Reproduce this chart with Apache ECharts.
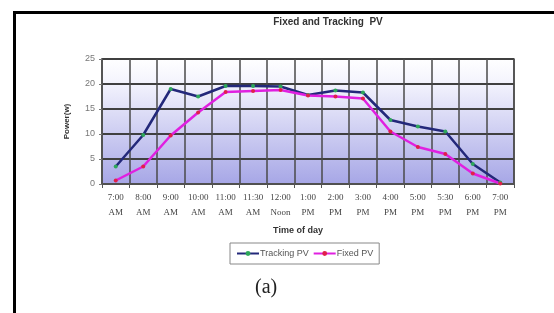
<!DOCTYPE html>
<html>
<head>
<meta charset="utf-8">
<script src="https://cdn.jsdelivr.net/npm/echarts@6/dist/echarts.min.js"></script>
<style>
	html, body { margin: 0; padding: 0; background: #fff; }
	#chart { width: 554px; height: 313px; }
</style>
</head>
<body>
<div id="chart"></div>
<script>
// time of day, two lines per label
var categories = ['7:00\nAM', '8:00\nAM', '9:00\nAM', '10:00\nAM', '11:00\nAM', '11:30\nAM', '12:00\nNoon',
	'1:00\nPM', '2:00\nPM', '3:00\nPM', '4:00\nPM', '5:00\nPM', '5:30\nPM', '6:00\nPM', '7:00\nPM'];
var trackingPV = [3.5, 9.8, 19, 17.5, 19.6, 19.6, 19.5, 17.8, 18.7, 18.3, 12.8, 11.5, 10.5, 4, 0.3];
var fixedPV = [0.7, 3.5, 9.7, 14.3, 18.4, 18.6, 18.8, 17.7, 17.5, 17.1, 10.5, 7.4, 6, 2.1, 0.1];

var myChart = echarts.init(document.getElementById('chart'));
var option = {
	animation: false,
	title: {
		text: 'Fixed and Tracking  PV',
		left: 323,
		top: 12,
		textAlign: 'center',
		textStyle: { fontFamily: 'Arial, Liberation Sans', fontSize: 10, fontWeight: 'bold', color: '#333' }
	},
	grid: {
		left: 102, right: 40, top: 59, height: 125,
		show: true,
		borderColor: '#555',
		borderWidth: 1.5,
		backgroundColor: new echarts.graphic.LinearGradient(0, 0, 0, 1, [
			{ offset: 0, color: '#ffffff' },
			{ offset: 0.2, color: '#f3f3fd' },
			{ offset: 1, color: '#a6a6e6' }
		])
	},
	legend: {
		data: ['Tracking PV', 'Fixed PV'],
		left: 230,
		top: 243,
		width: 150,
		itemGap: 4,
		itemWidth: 22,
		itemHeight: 6,
		padding: [6, 6, 6, 6],
		borderColor: '#888',
		borderWidth: 1,
		textStyle: { fontFamily: 'Arial, Liberation Sans', fontSize: 9, color: '#555', padding: [0, 0, 0, -4] }
	},
	xAxis: {
		type: 'category',
		data: categories,
		boundaryGap: true,
		name: 'Time of day',
		nameLocation: 'middle',
		nameGap: 42,
		nameTextStyle: { fontFamily: 'Arial, Liberation Sans', fontSize: 9, fontWeight: 'bold', color: '#333', padding: [0, 0, 0, -20] },
		axisLine: { lineStyle: { color: '#555', width: 1.5 } },
		axisTick: { show: true, length: 4, lineStyle: { color: '#555' } },
		splitLine: { show: true, lineStyle: { color: '#4a4a4a', width: 1.5 } },
		axisLabel: {
			interval: 0,
			margin: 6,
			fontFamily: 'Liberation Serif, serif',
			fontSize: 9,
			lineHeight: 15,
			color: '#444'
		}
	},
	yAxis: {
		type: 'value',
		min: 0,
		max: 25,
		interval: 5,
		name: 'Power(w)',
		nameLocation: 'middle',
		nameGap: 31,
		nameRotate: 90,
		nameTextStyle: { fontFamily: 'Arial, Liberation Sans', fontSize: 8, fontWeight: 'bold', color: '#333' },
		axisLine: { show: true, lineStyle: { color: '#555', width: 1.5 } },
		axisTick: { show: true, length: 3, lineStyle: { color: '#777' } },
		splitLine: { show: true, lineStyle: { color: '#404040', width: 2 } },
		axisLabel: { margin: 7, fontFamily: 'Arial, Liberation Sans', fontSize: 9, color: '#777' }
	},
	series: [
		{
			name: 'Tracking PV',
			type: 'line',
			data: trackingPV,
			symbol: 'circle',
			symbolSize: 4,
			itemStyle: { color: '#2ea85a' },
			lineStyle: { color: '#23287a', width: 2.5 }
		},
		{
			name: 'Fixed PV',
			type: 'line',
			data: fixedPV,
			symbol: 'circle',
			symbolSize: 4,
			itemStyle: { color: '#e0204a' },
			lineStyle: { color: '#e020e0', width: 2.5 }
		}
	],
	graphic: [
		{
			type: 'polyline',
			shape: { points: [[14.5, 320], [14.5, 12.5], [560, 12.5]] },
			style: { stroke: '#000', lineWidth: 3, fill: null }
		},
		{
			type: 'text',
			left: 255,
			top: 278,
			style: { text: '(a)', font: '20px "Liberation Serif", serif', fill: '#222' }
		}
	]
};
myChart.setOption(option);
</script>
</body>
</html>
